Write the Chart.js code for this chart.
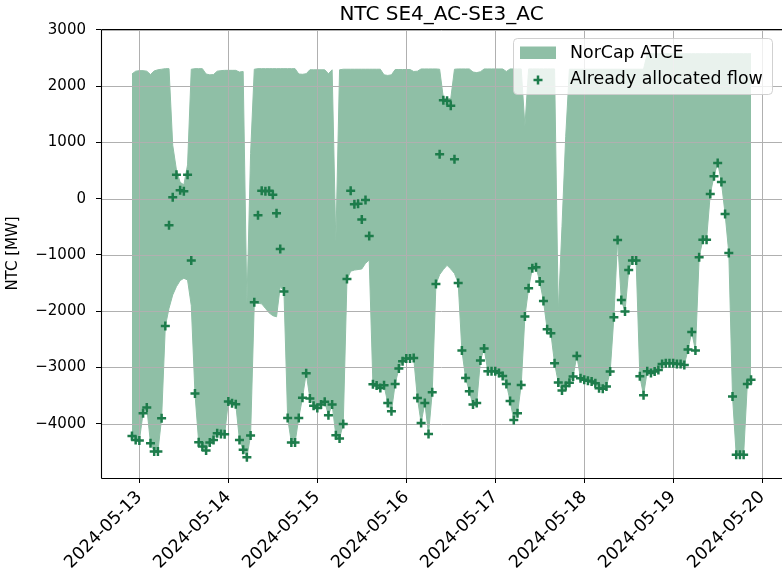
<!DOCTYPE html>
<html><head><meta charset="utf-8">
<script src="https://cdn.jsdelivr.net/npm/chart.js@4.4.1/dist/chart.umd.min.js"></script>
<style>html,body{margin:0;padding:0;background:#fff;}canvas{display:block;}</style>
</head><body>
<canvas id="c" width="782" height="574"></canvas>
<script>
// Hourly series starting 2024-05-12 22:00 (hours counted from 2024-05-13 00:00)
const firstHour = -2;
const dayLabels = ['2024-05-13','2024-05-14','2024-05-15','2024-05-16','2024-05-17','2024-05-18','2024-05-19','2024-05-20'];
const yTickValues = [-4000,-3000,-2000,-1000,0,1000,2000,3000];

const flow = [
-4220,-4290,-4300,-3814,-3713,-4347,-4495,-4495,-3903,-2262,
-474,24,426,148,130,426,-1100,-3465,-4329,-4405,
-4476,-4334,-4288,-4170,-4181,-4187,-3607,-3636,-3654,-4288,
-4465,-4596,-4211,-1841,-296,142,130,142,71,-261,
-894,-1650,-3900,-4335,-4335,-3900,-3540,-3105,-3550,-3680,
-3720,-3660,-3610,-3850,-3660,-4205,-4264,-4004,-1430,140,
-100,-90,-370,-25,-666,-3300,-3320,-3364,-3317,-3631,
-3779,-3293,-3021,-2890,-2843,-2843,-2832,-3542,-3986,-3631,
-4182,-3441,-1516,790,1750,1741,1650,700,-1500,-2700,
-3187,-3424,-3660,-3631,-2878,-2665,-3068,-3068,-3068,-3098,
-3150,-3293,-3595,-3932,-3814,-3310,-2096,-1593,-1237,-1220,
-1474,-1818,-2321,-2392,-2926,-3269,-3411,-3328,-3270,-3162,
-2795,-3192,-3220,-3235,-3250,-3280,-3370,-3380,-3340,-3074,
-2108,-734,-1800,-2007,-1267,-1101,-1101,-3155,-3495,-3068,
-3098,-3074,-3044,-2937,-2925,-2925,-2925,-2937,-2937,-2955,
-2683,-2369,-2701,-1042,-729,-729,83,397,634,296,
-272,-965,-3515,-4550,-4550,-4550,-3293,-3220
];

const atceMin = [
-4220,-4290,-4300,-3814,-3713,-4347,-4495,-4495,-3903,-2270,
-1948,-1711,-1563,-1456,-1415,-1445,-1900,-3465,-4329,-4405,
-4476,-4334,-4288,-4170,-4181,-4187,-3607,-3636,-3654,-4288,
-4465,-4596,-4211,-1850,-1860,-1870,-1950,-2030,-2080,-2100,
-1560,-1650,-3900,-4335,-4335,-3900,-3540,-3105,-3550,-3680,
-3720,-3660,-3610,-3850,-3660,-4205,-4264,-4004,-1440,-1290,
-1270,-1260,-1250,-1150,-1090,-3300,-3320,-3364,-3317,-3631,
-3779,-3293,-3021,-2890,-2843,-2843,-2832,-3542,-3986,-3631,
-4182,-3441,-1520,-1350,-1260,-1185,-1250,-1330,-1500,-2700,
-3187,-3424,-3660,-3631,-2878,-2665,-3068,-3068,-3068,-3098,
-3150,-3293,-3595,-3932,-3814,-3310,-2096,-1593,-1237,-1220,
-1474,-1818,-2321,-2392,-2926,-3269,-3411,-3328,-3270,-3162,
-2795,-3192,-3220,-3235,-3250,-3280,-3370,-3380,-3340,-3074,
-2108,-734,-1800,-2007,-1267,-1101,-1101,-3155,-3495,-3068,
-3098,-3074,-3044,-2937,-2925,-2925,-2925,-2937,-2937,-2955,
-2683,-2369,-2701,-1042,-729,-729,83,397,634,296,
-272,-965,-3515,-4550,-4550,-4550,-3293,-3220
];

const atceMax = [
2215,2265,2275,2275,2265,2205,2270,2290,2300,2310,
2310,950,510,290,245,600,2300,2310,2310,2310,
2215,2200,2205,2265,2275,2280,2280,2280,2280,2250,
2260,-1900,800,2300,2310,2310,2310,2310,2310,2310,
2310,2310,2310,2310,2310,2215,2210,2220,2290,2290,
2290,2290,2290,2220,2290,-780,2290,2300,2300,2300,
2300,2300,2300,2300,2300,2300,2300,2300,2200,2190,
2200,2295,2295,2295,2295,2295,2260,2265,2305,2305,
2305,2305,2305,2300,1790,1770,1780,2300,2305,2305,
2305,2305,2250,2240,2255,2305,2305,2305,2305,2305,
2305,2260,2305,2305,2305,2305,1285,2305,2305,2305,
2305,2305,2305,2305,2305,-2030,-500,1100,2300,2300,
2300,2300,2300,2300,2300,2300,2300,2300,2300,2300,
2300,2300,2300,2300,2300,2300,2300,2300,2300,2575,
2575,2575,2575,2575,2575,2575,2575,2575,2575,2575,
2575,2575,2575,2575,2575,2575,2575,2575,2575,2575,
2575,2575,2575,2575,2575,2575,2575,2575
];

const FILL = 'rgb(143,191,166)';
const MARK = '#1d7c4b';
const FONT = "'DejaVu Sans', sans-serif";

const hours = flow.map((_, i) => firstHour + i);
const pts = arr => arr.map((v, i) => ({x: hours[i], y: v}));
const fmtY = v => (v < 0 ? '\u2212' + Math.abs(v) : String(v));

const decor = {
  id: 'decor',
  afterDatasetDraw(chart, args) {
    if (args.index !== 1) return;
    const {ctx, chartArea: a, scales: {x, y}} = chart;
    ctx.save();
    ctx.strokeStyle = '#b0b0b0';
    ctx.lineWidth = 1;
    ctx.beginPath();
    yTickValues.forEach(v => {
      const py = Math.round(y.getPixelForValue(v)) + 0.5;
      ctx.moveTo(a.left, py); ctx.lineTo(a.right, py);
    });
    dayLabels.forEach((d, k) => {
      const px = Math.round(x.getPixelForValue(24 * k)) + 0.5;
      ctx.moveTo(px, a.top); ctx.lineTo(px, a.bottom);
    });
    ctx.stroke();
    ctx.restore();
  },
  afterDraw(chart) {
    const {ctx, chartArea: a} = chart;
    ctx.save();
    // spines
    ctx.strokeStyle = '#000';
    ctx.lineWidth = 1.1;
    ctx.beginPath();
    ctx.moveTo(a.left + 0.5, a.top + 0.5); ctx.lineTo(a.right + 2, a.top + 0.5);
    ctx.moveTo(a.left + 0.5, a.top + 0.5); ctx.lineTo(a.left + 0.5, a.bottom + 0.5);
    ctx.moveTo(a.left + 0.5, a.bottom + 0.5); ctx.lineTo(a.right + 2, a.bottom + 0.5);
    ctx.stroke();
    // title
    ctx.fillStyle = '#000';
    ctx.font = '20px ' + FONT;
    ctx.textAlign = 'center';
    ctx.textBaseline = 'alphabetic';
    ctx.fillText('NTC SE4_AC-SE3_AC', (a.left + a.right) / 2, 20);
    // y label
    ctx.save();
    ctx.translate(13, (a.top + a.bottom) / 2);
    ctx.rotate(-Math.PI / 2);
    ctx.font = '15px ' + FONT;
    ctx.textBaseline = 'middle';
    ctx.fillText('NTC [MW]', 0, 0);
    ctx.restore();
    // legend
    const lx = 513.5, ly = 38.5, lw = 259, lh = 56, r = 4;
    ctx.beginPath();
    ctx.moveTo(lx + r, ly);
    ctx.arcTo(lx + lw, ly, lx + lw, ly + lh, r);
    ctx.arcTo(lx + lw, ly + lh, lx, ly + lh, r);
    ctx.arcTo(lx, ly + lh, lx, ly, r);
    ctx.arcTo(lx, ly, lx + lw, ly, r);
    ctx.closePath();
    ctx.fillStyle = 'rgba(255,255,255,0.8)';
    ctx.fill();
    ctx.strokeStyle = 'rgba(204,204,204,0.9)';
    ctx.lineWidth = 1;
    ctx.stroke();
    ctx.fillStyle = FILL;
    ctx.fillRect(520, 46.5, 36, 12.5);
    ctx.strokeStyle = MARK;
    ctx.lineWidth = 2.5;
    ctx.beginPath();
    ctx.moveTo(533.5, 80); ctx.lineTo(542.5, 80);
    ctx.moveTo(538, 75.5); ctx.lineTo(538, 84.5);
    ctx.stroke();
    ctx.fillStyle = '#000';
    ctx.font = '17.4px ' + FONT;
    ctx.textAlign = 'left';
    ctx.textBaseline = 'middle';
    ctx.fillText('NorCap ATCE', 570, 53);
    ctx.fillText('Already allocated flow', 570, 79);
    ctx.restore();
  }
};

new Chart(document.getElementById('c'), {
  type: 'line',
  data: {
    datasets: [
      {label: 'min', data: pts(atceMin), borderColor: FILL, borderWidth: 1, pointRadius: 0, fill: false, tension: 0, order: 3},
      {label: 'NorCap ATCE', data: pts(atceMax), borderColor: FILL, backgroundColor: FILL, borderWidth: 1, pointRadius: 0, fill: '-1', tension: 0, order: 2},
      {label: 'Already allocated flow', data: pts(flow), showLine: false, pointStyle: 'cross', pointRadius: 4.5, pointBorderWidth: 2.5,
       borderColor: MARK, backgroundColor: MARK, pointHoverRadius: 4.5, order: 1}
    ]
  },
  options: {
    responsive: false,
    animation: false,
    devicePixelRatio: 1,
    events: [],
    layout: {autoPadding: false, padding: {top: 29, left: 0, right: 0, bottom: 0}},
    plugins: {legend: {display: false}, title: {display: false}, tooltip: {enabled: false}},
    scales: {
      x: {
        type: 'linear', min: -10.35, max: 173.35,
        afterBuildTicks: s => { s.ticks = dayLabels.map((d, k) => ({value: 24 * k})); },
        afterFit: s => { s.height = 96; s.paddingLeft = 0; s.paddingRight = 0; },
        ticks: {autoSkip: false, minRotation: 45, maxRotation: 45, padding: 4, color: '#000',
                font: {family: FONT, size: 17.4},
                callback: v => dayLabels[Math.round(v / 24)]},
        grid: {drawOnChartArea: false, drawTicks: true, tickLength: 5, tickColor: '#000', tickWidth: 1},
        border: {display: false}
      },
      y: {
        type: 'linear', min: -4965, max: 3015,
        afterBuildTicks: s => { s.ticks = yTickValues.map(v => ({value: v})); },
        afterFit: s => { s.width = 101; s.paddingTop = 0; s.paddingBottom = 0; },
        ticks: {padding: 10, color: '#000', font: {family: FONT, size: 15}, callback: v => fmtY(v)},
        grid: {drawOnChartArea: false, drawTicks: true, tickLength: 5, tickColor: '#000', tickWidth: 1},
        border: {display: false}
      }
    }
  },
  plugins: [decor]
});
</script>
</body></html>
